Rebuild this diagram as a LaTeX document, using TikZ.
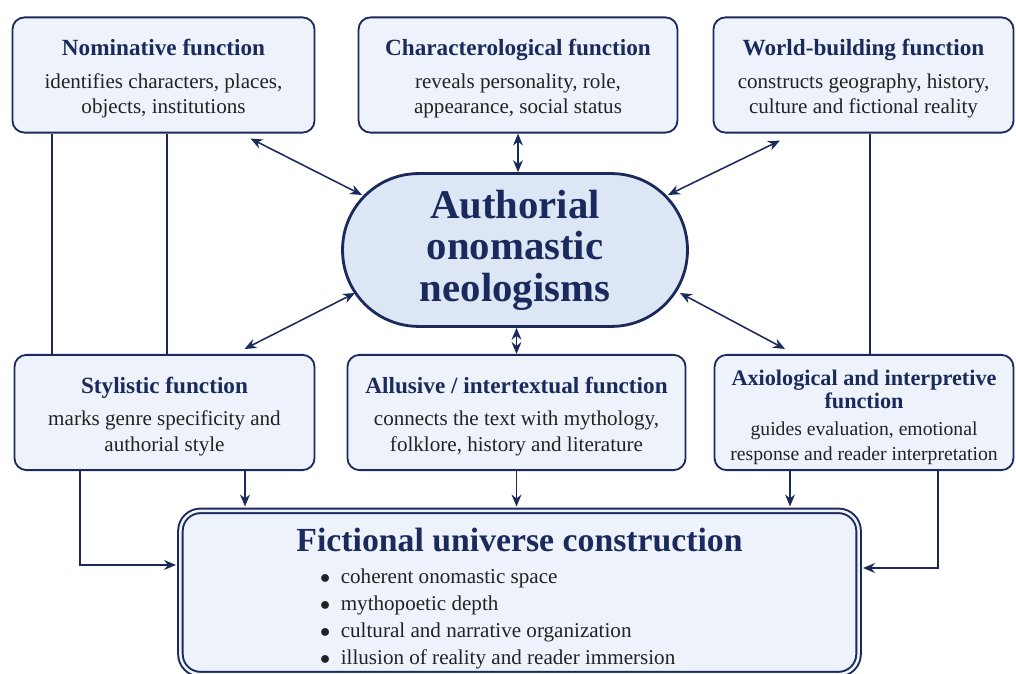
\documentclass[tikz,border=0pt]{standalone}
\usepackage{fontspec}
\setmainfont{Liberation Serif}
\usetikzlibrary{arrows.meta}

\definecolor{navy}{HTML}{1B2A5C}
\definecolor{boxfill}{HTML}{EEF3FB}
\definecolor{ellfill}{HTML}{DCE6F4}
\definecolor{bodytext}{HTML}{222222}

\newcommand{\fntitle}[1]{{\fontsize{16.5}{18}\selectfont\bfseries\color{navy}\rule{0pt}{17pt}#1}}

\begin{document}
\begin{tikzpicture}[x=0.025cm,y=-0.025cm]
			\tikzstyle{every edge}=[draw,color=navy,line width=1.1pt]
			\tikzstyle{fnbox}=[draw=navy,line width=1.3pt,fill=boxfill,rounded corners=0.3cm,align=center,minimum height=2.88cm,font=\fontsize{15}{18}\selectfont\color{bodytext}]
			\tikzstyle{tip}=[{Stealth[length=8.5pt,width=7pt]}-{Stealth[length=8.5pt,width=7pt]}]
			\tikzstyle{onetip}=[-{Stealth[length=8.5pt,width=7pt]},draw=navy,line width=1.1pt]

			\useasboundingbox (0,0) rectangle (1016,674);

			\node (nom) at (163.5,75) [fnbox,minimum width=7.55cm] {\fntitle{Nominative function}\\[5pt]identifies characters, places,\\objects, institutions};
			\node (char) at (518,75) [fnbox,minimum width=7.97cm] {\fntitle{Characterological function}\\[5pt]reveals personality, role,\\appearance, social status};
			\node (world) at (863.5,75) [fnbox,minimum width=7.5cm] {\fntitle{World-building function}\\[5pt]constructs geography, history,\\culture and fictional reality};

			\node (ell) at (515,250) [rectangle,rounded corners=1.9cm,minimum width=8.62cm,minimum height=3.82cm,draw=navy,line width=2pt,fill=ellfill,align=center,font=\fontsize{29}{29.5}\selectfont\bfseries\color{navy}] {Authorial\\onomastic\\neologisms};

			\node (styl) at (164.5,412.5) [fnbox,minimum width=7.5cm] {\fntitle{Stylistic function}\\[5pt]marks genre specificity and\\authorial style};
			\node (allu) at (516.5,412.5) [fnbox,minimum width=8.45cm] {\fntitle{Allusive / intertextual function}\\[5pt]connects the text with mythology,\\folklore, history and literature};
			\node (axio) at (864,412.5) [fnbox,minimum width=7.47cm,font=\fontsize{14}{17.8}\selectfont\color{bodytext}] {{\fontsize{15.8}{16}\selectfont\bfseries\color{navy}\rule{0pt}{18pt}Axiological and interpretive}\\[-2pt]{\fontsize{15.8}{16}\selectfont\bfseries\color{navy}function}\\[1.5pt]guides evaluation, emotional\\response and reader interpretation};

			\node (fic) at (519.5,592.5) [draw=navy,line width=1.4pt,double=boxfill,double distance=1.8pt,fill=boxfill,rounded corners=0.5cm,minimum width=16.95cm,minimum height=4.08cm] {};
			\node (fictext) at (519.5,600) [align=center,font=\fontsize{15}{19}\selectfont\color{bodytext}] {{\fontsize{24}{26}\selectfont\bfseries\color{navy}Fictional universe construction}\\[8.5pt]\begin{tabular}{@{}l@{\hspace{31pt}}}$\bullet$\enspace coherent onomastic space\\$\bullet$\enspace mythopoetic depth\\$\bullet$\enspace cultural and narrative organization\\$\bullet$\enspace illusion of reality and reader immersion\end{tabular}};

			\path [tip] ([shift={(87,5)}]nom.south) edge ([shift={(-153,-55)}]ell.center);
			\path [tip] (char.south) edge (char.south |- ell.north);
			\path [tip] ([shift={(-83.5,7)}]world.south) edge ([shift={(153,-55)}]ell.center);
			\path [tip] ([shift={(80,-5)}]styl.north) edge ([shift={(-160,43)}]ell.center);
			\path [tip] (allu.north) edge (allu.north |- ell.south);
			\path [tip] ([shift={(-79,-5)}]axio.north) edge ([shift={(165,43)}]ell.center);

			\coordinate (nomL) at ([shift={(-111.5,0)}]nom.south);
			\coordinate (nomR) at ([shift={(3.5,0)}]nom.south);
			\coordinate (worldR) at ([shift={(6.5,0)}]world.south);
			\path (nomL) edge (nomL |- styl.north);
			\path (nomR) edge (nomR |- styl.north);
			\path (worldR) edge (worldR |- axio.north);

			\coordinate (stylL) at ([shift={(-84.5,0)}]styl.south);
			\coordinate (stylR) at ([shift={(80.5,0)}]styl.south);
			\coordinate (axioL) at ([shift={(-74,0)}]axio.south);
			\coordinate (axioR) at ([shift={(74,0)}]axio.south);

			\draw [onetip,shorten >=2.4pt] (stylR) -- (stylR |- fic.north);
			\draw [onetip,shorten >=2.4pt] (allu.south) -- (allu.south |- fic.north);
			\draw [onetip,shorten >=2.4pt] (axioL) -- (axioL |- fic.north);
			\draw [onetip,shorten >=2.4pt] (stylL) |- ([shift={(0,-27.5)}]fic.west);
			\draw [onetip,shorten >=2.4pt] (axioR) |- ([shift={(0,-24.5)}]fic.east);
		\end{tikzpicture}
\end{document}
